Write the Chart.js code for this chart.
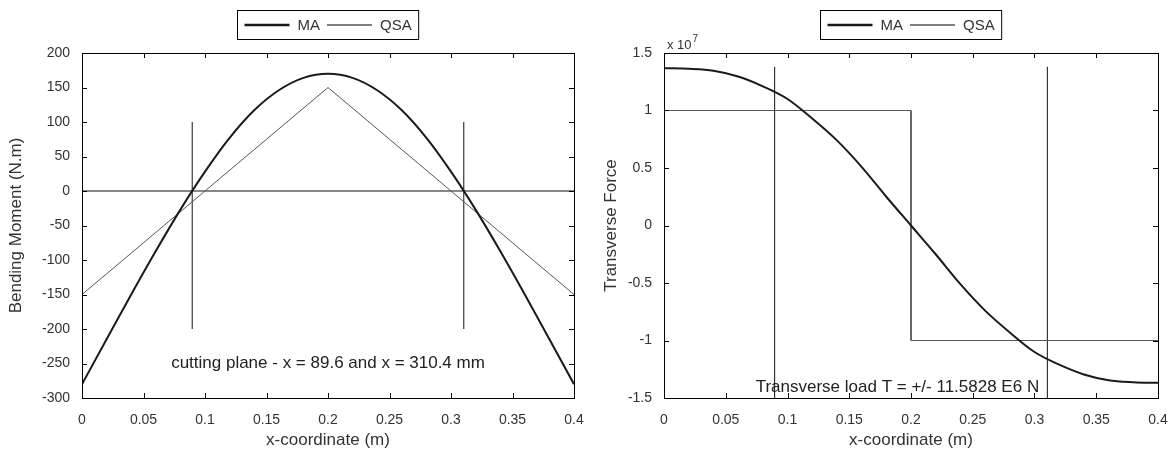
<!DOCTYPE html>
<html lang="en">
<head>
<meta charset="UTF-8" />
<meta name="viewport" content="width=device-width, initial-scale=1" />
<title>Bending Moment and Transverse Force</title>
<script src="https://cdn.jsdelivr.net/npm/chart.js"></script>
<style>
  html, body { margin: 0; padding: 0; background: #fff; }
  .wrap { position: relative; width: 1174px; height: 453px; }
  .panel { position: absolute; top: 0; width: 587px; height: 453px; }
  #leftPanel { left: 0; }
  #rightPanel { left: 587px; }
</style>
</head>
<body>

<div class="wrap">
  <div class="panel" id="leftPanel"><canvas id="momentChart"></canvas></div>
  <div class="panel" id="rightPanel"><canvas id="forceChart"></canvas></div>
</div>

<script>
  // x positions along the beam (m)
  const xCoord = [0, 0.02, 0.04, 0.06, 0.08, 0.1, 0.12, 0.14, 0.16, 0.18, 0.2,
                  0.22, 0.24, 0.26, 0.28, 0.3, 0.32, 0.34, 0.36, 0.38, 0.4];

  // bending moment (N.m)
  const momentMA = [-280, -215, -150, -87, -27, 28, 77, 117, 146, 164, 170,
                    164, 146, 117, 77, 28, -27, -87, -150, -215, -280];
  const momentQSAx = [0, 0.2, 0.4];
  const momentQSA = [-150, 150, -150];

  // transverse force (x 10^7 N)
  const forceMA = [1.368, 1.362, 1.345, 1.295, 1.21, 1.10, 0.93, 0.74, 0.51, 0.25, 0,
                   -0.25, -0.51, -0.74, -0.93, -1.10, -1.21, -1.295, -1.345, -1.362, -1.368];
  const forceQSAx = [0, 0.2, 0.2, 0.4];
  const forceQSA = [1, 1, -1, -1];

  // cutting planes (m) and the vertical extent of their markers
  const cutPlanes = [0.0896, 0.3104];
  const momentCutRange = [-200, 100];
  const forceCutRange = [-1.5, 1.38];

  const FONT = '"Liberation Sans", Arial, sans-serif';
  const TXT = '#333';

  function pts(xs, ys) { return xs.map((x, i) => ({ x: x, y: ys[i] })); }
  function fmt(v) { return String(+v.toFixed(2)); }

  function cutLines(range) {
    return cutPlanes.map(c => ({
      label: 'cut', data: [{ x: c, y: range[0] }, { x: c, y: range[1] }],
      borderColor: '#111', borderWidth: 1, pointRadius: 0, inLegend: false
    }));
  }

  // box, inward ticks, boxed legend and notes, MATLAB style
  const matlabBox = {
    id: 'matlabBox',
    afterDatasetsDraw(chart, args, opts) {
      const { ctx, chartArea: a, scales } = chart;
      ctx.save();
      ctx.strokeStyle = '#000';
      ctx.lineWidth = 1;
      ctx.strokeRect(Math.round(a.left) + 0.5, Math.round(a.top) + 0.5,
                     Math.round(a.right - a.left), Math.round(a.bottom - a.top));

      ctx.beginPath();
      scales.x.ticks.forEach(t => {
        const px = Math.round(scales.x.getPixelForValue(t.value)) + 0.5;
        ctx.moveTo(px, a.bottom); ctx.lineTo(px, a.bottom - 5);
        ctx.moveTo(px, a.top); ctx.lineTo(px, a.top + 5);
      });
      scales.y.ticks.forEach(t => {
        const py = Math.round(scales.y.getPixelForValue(t.value)) + 0.5;
        ctx.moveTo(a.left, py); ctx.lineTo(a.left + 5, py);
        ctx.moveTo(a.right, py); ctx.lineTo(a.right - 5, py);
      });
      ctx.stroke();

      // legend box
      const items = chart.data.datasets.filter(d => d.inLegend);
      ctx.font = '15px ' + FONT;
      const sample = 45, gap = 8, pad = 7;
      let w = pad;
      items.forEach(d => { w += sample + gap + ctx.measureText(d.label).width + pad; });
      const bx = Math.round((a.left + a.right) / 2 - w / 2) + 0.5;
      const by = 10.5, bh = 29;
      ctx.fillStyle = '#fff';
      ctx.fillRect(bx, by, w, bh);
      ctx.strokeStyle = '#000';
      ctx.lineWidth = 1;
      ctx.strokeRect(bx, by, w, bh);
      let cx = bx + pad;
      const cy = by + bh / 2;
      items.forEach(d => {
        ctx.beginPath();
        ctx.strokeStyle = d.borderColor;
        ctx.lineWidth = d.borderWidth + 0.5;
        ctx.moveTo(cx, cy); ctx.lineTo(cx + sample, cy);
        ctx.stroke();
        ctx.fillStyle = TXT;
        ctx.textBaseline = 'middle';
        ctx.textAlign = 'left';
        ctx.fillText(d.label, cx + sample + gap, cy + 1);
        cx += sample + gap + ctx.measureText(d.label).width + pad;
      });

      // note inside the plot
      if (opts.note) {
        ctx.fillStyle = '#222';
        ctx.font = '17px ' + FONT;
        ctx.textAlign = 'center';
        ctx.textBaseline = 'middle';
        ctx.fillText(opts.note.text,
                     scales.x.getPixelForValue(opts.note.x),
                     scales.y.getPixelForValue(opts.note.y));
      }

      // exponent label
      if (opts.exponent) {
        ctx.fillStyle = TXT;
        ctx.textAlign = 'left';
        ctx.textBaseline = 'alphabetic';
        ctx.font = '13px ' + FONT;
        ctx.fillText('x 10', a.left + 3, a.top - 4);
        const ew = ctx.measureText('x 10').width;
        ctx.font = '10px ' + FONT;
        ctx.fillText(opts.exponent, a.left + 4 + ew, a.top - 11);
      }
      ctx.restore();
    }
  };

  function makeChart(id, cfg) {
    const ctx = document.getElementById(id).getContext('2d');
    return new Chart(ctx, {
      type: 'line',
      data: { datasets: cfg.datasets },
      options: {
        responsive: true,
        maintainAspectRatio: false,
        animation: false,
        layout: { padding: { top: 53, right: cfg.padRight, bottom: 0, left: 0 } },
        elements: { point: { radius: 0 }, line: { tension: 0 } },
        plugins: {
          legend: { display: false },
          tooltip: { enabled: false },
          matlabBox: { note: cfg.note, exponent: cfg.exponent }
        },
        scales: {
          x: {
            type: 'linear', min: 0, max: 0.4,
            afterFit: s => { s.height = 55; s.paddingLeft = 0; s.paddingRight = 0; },
            grid: { display: false, drawTicks: false },
            border: { display: false },
            ticks: { stepSize: 0.05, color: TXT, padding: 14, maxRotation: 0,
                     font: { family: FONT, size: 14 }, callback: fmt },
            title: { display: true, text: 'x-coordinate (m)', color: TXT,
                     font: { family: FONT, size: 17 }, padding: { top: 0, bottom: 2 } }
          },
          y: {
            type: 'linear', min: cfg.yMin, max: cfg.yMax,
            afterFit: s => { s.width = cfg.yWidth; s.paddingTop = 0; s.paddingBottom = 0; },
            grid: { display: false, drawTicks: false },
            border: { display: false },
            ticks: { stepSize: cfg.yStep, color: TXT, padding: 12,
                     font: { family: FONT, size: 14 }, callback: fmt },
            title: { display: true, text: cfg.yTitle, color: TXT,
                     font: { family: FONT, size: 17 }, padding: { top: cfg.yTitlePad, bottom: 0 } }
          }
        }
      },
      plugins: [matlabBox]
    });
  }

  makeChart('momentChart', {
    padRight: 13, yWidth: 82, yTitlePad: 6,
    yMin: -300, yMax: 200, yStep: 50, yTitle: 'Bending Moment (N.m)',
    note: { text: 'cutting plane - x = 89.6 and x = 310.4 mm', x: 0.2, y: -250 },
    datasets: [
      { label: 'MA', data: pts(xCoord, momentMA), borderColor: '#1a1a1a', borderWidth: 2,
        cubicInterpolationMode: 'monotone', inLegend: true },
      { label: 'QSA', data: pts(momentQSAx, momentQSA), borderColor: '#555', borderWidth: 1,
        inLegend: true },
      { label: 'zero', data: [{ x: 0, y: 0 }, { x: 0.4, y: 0 }], borderColor: '#111',
        borderWidth: 1, inLegend: false },
      ...cutLines(momentCutRange)
    ]
  });

  makeChart('forceChart', {
    padRight: 16, yWidth: 77, yTitlePad: 14,
    yMin: -1.5, yMax: 1.5, yStep: 0.5, yTitle: 'Transverse Force', exponent: '7',
    note: { text: 'Transverse load T = +/- 11.5828 E6 N', x: 0.189, y: -1.41 },
    datasets: [
      { label: 'MA', data: pts(xCoord, forceMA), borderColor: '#1a1a1a', borderWidth: 2,
        cubicInterpolationMode: 'monotone', inLegend: true },
      { label: 'QSA', data: pts(forceQSAx, forceQSA), borderColor: '#555', borderWidth: 1,
        inLegend: true },
      ...cutLines(forceCutRange)
    ]
  });
</script>

</body>
</html>
